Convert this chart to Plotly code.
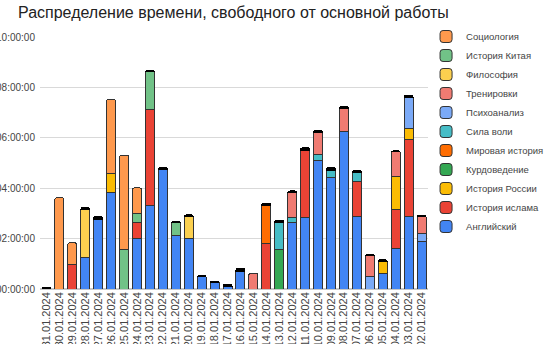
import plotly.graph_objects as go

# Dates (newest first, as they appear along the axis)
dates = ["31.01.2024", "30.01.2024", "29.01.2024", "28.01.2024", "27.01.2024",
         "26.01.2024", "25.01.2024", "24.01.2024", "23.01.2024", "22.01.2024",
         "21.01.2024", "20.01.2024", "19.01.2024", "18.01.2024", "17.01.2024",
         "16.01.2024", "15.01.2024", "14.01.2024", "13.01.2024", "12.01.2024",
         "11.01.2024", "10.01.2024", "09.01.2024", "08.01.2024", "07.01.2024",
         "06.01.2024", "05.01.2024", "04.01.2024", "03.01.2024", "02.01.2024"]

# Hours spent per activity and day
english = [0, 0, 0, 1.24, 2.77, 3.84, 0, 2.0, 3.33, 4.73, 2.13, 2.0, 0.48, 0.24, 0.11,
           0.71, 0, 0, 0, 2.64, 2.85, 5.11, 4.41, 6.24, 2.87, 0, 0.61, 1.61, 2.87, 1.89]
islam_history = [0, 0, 0.97, 0, 0, 0, 0, 0.64, 3.8, 0, 0, 0, 0, 0, 0,
                 0, 0, 1.8, 0, 0, 2.66, 0, 0, 0, 1.40, 0, 0, 1.54, 3.08, 0]
russia_history = [0, 0, 0, 0, 0, 0.73, 0, 0, 0, 0, 0, 0, 0, 0, 0,
                  0, 0, 0, 0, 0, 0, 0, 0, 0, 0, 0, 0.50, 1.33, 0.40, 0]
kurdish_studies = [0, 0, 0, 0, 0, 0, 0, 0, 0, 0, 0, 0, 0, 0, 0,
                   0, 0, 0, 1.57, 0, 0, 0, 0, 0, 0, 0, 0, 0, 0, 0]
world_history = [0, 0, 0, 0, 0, 0, 0, 0, 0, 0, 0, 0, 0, 0, 0,
                 0, 0, 1.51, 0, 0, 0, 0, 0, 0, 0, 0, 0, 0, 0, 0]
willpower = [0, 0, 0, 0, 0, 0, 0, 0, 0, 0, 0, 0, 0, 0, 0,
             0, 0, 0, 1.07, 0.21, 0, 0.24, 0.30, 0, 0.37, 0, 0, 0, 0, 0]
psychoanalysis = [0, 0, 0, 0, 0, 0, 0, 0, 0, 0, 0, 0, 0, 0, 0,
                  0, 0, 0, 0, 0, 0, 0, 0, 0, 0, 0.48, 0, 0, 1.26, 0.32]
workouts = [0, 0, 0, 0, 0, 0, 0, 0, 0, 0, 0, 0, 0, 0, 0,
            0, 0.63, 0, 0, 0.99, 0, 0.86, 0, 0.91, 0, 0.83, 0, 0.96, 0, 0.67]
philosophy = [0, 0, 0, 1.93, 0, 0, 0, 0, 0, 0, 0, 0.89, 0, 0, 0,
              0, 0, 0, 0, 0, 0, 0, 0, 0, 0, 0, 0, 0, 0, 0]
china_history = [0, 0, 0, 0, 0, 0, 1.57, 0.37, 1.51, 0, 0.51, 0, 0, 0, 0,
                 0, 0, 0, 0, 0, 0, 0, 0, 0, 0, 0, 0, 0, 0, 0]
sociology = [0, 3.62, 0.86, 0, 0, 2.95, 3.74, 1.0, 0, 0, 0, 0, 0, 0, 0,
             0, 0, 0, 0, 0, 0, 0, 0, 0, 0, 0, 0, 0, 0, 0]
other = [0.05, 0, 0, 0.06, 0.10, 0, 0, 0, 0.03, 0.08, 0.04, 0.05, 0.05, 0.07, 0.08,
         0.10, 0, 0.09, 0.08, 0.05, 0.09, 0.08, 0.10, 0.08, 0.07, 0.06, 0.05, 0.04, 0.07, 0.05]

series = [
    ("Английский", english, "#4285F4"),
    ("История ислама", islam_history, "#EA4335"),
    ("История России", russia_history, "#FBBC04"),
    ("Курдоведение", kurdish_studies, "#34A853"),
    ("Мировая история", world_history, "#FF6D01"),
    ("Сила воли", willpower, "#46BDC6"),
    ("Психоанализ", psychoanalysis, "#7BAAF7"),
    ("Тренировки", workouts, "#F07B72"),
    ("Философия", philosophy, "#FCD04F"),
    ("История Китая", china_history, "#71C287"),
    ("Социология", sociology, "#FF994D"),
]

hour_ticks = [0, 2, 4, 6, 8, 10]
hour_labels = [f"{h:02d}:00:00" for h in hour_ticks]

fig = go.Figure()
for name, vals, color in series:
    fig.add_trace(go.Bar(
        x=dates, y=[v if v else None for v in vals], name=name,
        marker=dict(color=color, line=dict(color="#333333", width=1)),
    ))
fig.add_trace(go.Bar(
    x=dates, y=[v if v else None for v in other], name="Прочее", showlegend=False,
    marker=dict(color="#000000", line=dict(color="#000000", width=1)),
))

fig.update_layout(
    width=546, height=344,
    barmode="stack", bargap=0.3, barcornerradius=2,
    plot_bgcolor="white", paper_bgcolor="white",
    font=dict(family="Liberation Sans, Arial, sans-serif", size=10, color="#444444"),
    margin=dict(l=40, r=118, t=37, b=55, autoexpand=False),
    title=dict(text="Распределение времени, свободного от основной работы",
               font=dict(size=16, color="#222222"),
               xref="container", x=18 / 546, xanchor="left",
               yref="container", y=1 - 12 / 344, yanchor="middle"),
    legend=dict(traceorder="reversed", x=0.995, xanchor="left",
                yref="container", y=1 - 22 / 344, yanchor="top", maxheight=330,
                font=dict(size=9.5, color="#444444"), bgcolor="rgba(0,0,0,0)"),
    xaxis=dict(type="category", tickangle=-90, showgrid=False, ticks="",
               tickmode="array", tickvals=dates, ticktext=dates,
               tickfont=dict(size=11, color="#444444"), showline=False),
    yaxis=dict(range=[0, 10], tickvals=hour_ticks, ticktext=hour_labels,
               gridcolor="#d9d9d9", zeroline=True, zerolinecolor="#c8c8c8",
               tickfont=dict(size=10, color="#444444"), ticks="",
               ticklabelstandoff=4),
)

fig.write_html("out.html")
